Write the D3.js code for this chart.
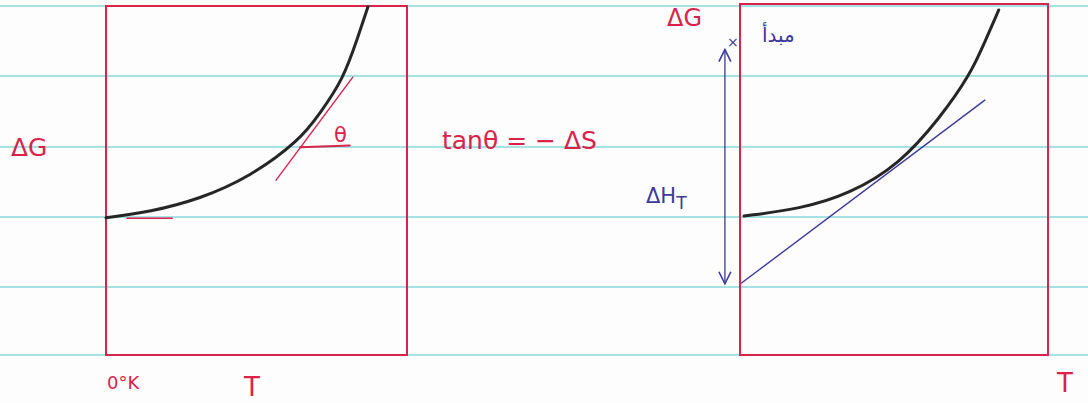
<!DOCTYPE html>
<html>
<head>
<meta charset="utf-8">
<script src="https://cdn.jsdelivr.net/npm/d3@7"></script>
<style>
  html, body { margin: 0; padding: 0; background: #fdfdfd; }
  svg { display: block; }
  text { font-family: "DejaVu Sans", sans-serif; }
</style>
</head>
<body>
<svg id="chart" width="1088" height="403"></svg>
<script>
// Free energy ΔG against temperature T (two sketches)
const ruleRows = [6, 76, 147, 217, 287, 355];

// Left sketch: ΔG(T) curve, flat at 0 K and rising steeply
const leftT = [0, 14.6, 31.2, 47.8, 64.5, 71.1, 78.7, 83.7, 87];
const leftG = [39.3, 41, 44.7, 51, 61.6, 69.3, 78.8, 91.1, 99.7];
// tangent at a point on the curve and its horizontal reference for θ
const leftTangentT = [56.5, 82];
const leftTangentG = [50.1, 79.6];
const leftThetaT = [64.5, 81];
const leftThetaG = [59.5, 60];
const leftZeroT = [7, 22];
const leftZeroG = [39.2, 39.2];

// Right sketch: same curve with tangent extrapolated back to T = 0
const rightT = [1.3, 19.5, 35.7, 51.9, 64.9, 74.7, 79.5, 84];
const rightG = [39.6, 41.6, 45.9, 54.4, 67.5, 79.8, 89.2, 98.3];
const rightTangentT = [0.5, 79.5];
const rightTangentG = [20.5, 72.6];
const arrowT = -4.9;
const arrowG = [87, 20.3];

const RED = "#d9234b", BLUE = "#3b3a9c", INK = "#262626", RULE = "#8ad9d9";

const svg = d3.select("#chart");

// ruled notebook lines
svg.selectAll("line.rule").data(ruleRows).join("line")
  .attr("class", "rule")
  .attr("x1", 0).attr("x2", 1088)
  .attr("y1", d => d).attr("y2", d => d)
  .attr("stroke", RULE).attr("stroke-width", 1.4);

function panel(x0, x1, y0, y1) {
  const x = d3.scaleLinear().domain([0, 100]).range([x0, x1]);
  const y = d3.scaleLinear().domain([0, 100]).range([y1, y0]);
  svg.append("rect")
    .attr("x", x0).attr("y", y0)
    .attr("width", x1 - x0).attr("height", y1 - y0)
    .attr("fill", "none").attr("stroke", RED).attr("stroke-width", 2);
  return { x, y };
}

function seg(s, ts, gs, color, width) {
  svg.append("path")
    .attr("d", d3.line().x(d => s.x(d[0])).y(d => s.y(d[1]))(d3.zip(ts, gs)))
    .attr("fill", "none").attr("stroke", color)
    .attr("stroke-width", width).attr("stroke-linecap", "round");
}

function curve(s, ts, gs) {
  svg.append("path")
    .attr("d", d3.line().curve(d3.curveBasis)
      .x(d => s.x(d[0])).y(d => s.y(d[1]))(d3.zip(ts, gs)))
    .attr("fill", "none").attr("stroke", INK)
    .attr("stroke-width", 3).attr("stroke-linecap", "round");
}

// ---- left panel
const L = panel(106, 407, 6, 355);
seg(L, leftZeroT, leftZeroG, RED, 1.6);
seg(L, leftTangentT, leftTangentG, RED, 1.4);
seg(L, leftThetaT, leftThetaG, RED, 2);
curve(L, leftT, leftG);

svg.append("text").attr("x", 11).attr("y", 156)
  .attr("font-size", 25).attr("fill", RED).text("ΔG");
svg.append("text").attr("x", 334).attr("y", 142)
  .attr("font-size", 21).attr("fill", RED).text("θ");
svg.append("text").attr("x", 107).attr("y", 389)
  .attr("font-size", 18).attr("fill", RED).text("0°K");
svg.append("text").attr("x", 244).attr("y", 396)
  .attr("font-size", 26).attr("fill", RED).text("T");

svg.append("text").attr("x", 442).attr("y", 149)
  .attr("font-size", 25).attr("fill", RED).text("tanθ = − ΔS");

// ---- right panel
const R = panel(740, 1048, 4, 355);
seg(R, rightTangentT, rightTangentG, BLUE, 1.4);
curve(R, rightT, rightG);

// ΔH_T double arrow
const ax = R.x(arrowT);
svg.append("line")
  .attr("x1", ax).attr("x2", ax)
  .attr("y1", R.y(arrowG[0])).attr("y2", R.y(arrowG[1]))
  .attr("stroke", BLUE).attr("stroke-width", 1.3);
const ay0 = R.y(arrowG[0]), ay1 = R.y(arrowG[1]);
svg.append("path")
  .attr("d", `M${ax - 6},${ay0 + 12} L${ax},${ay0} L${ax + 6},${ay0 + 12}
              M${ax - 6},${ay1 - 12} L${ax},${ay1} L${ax + 6},${ay1 - 12}`)
  .attr("fill", "none").attr("stroke", BLUE).attr("stroke-width", 1.6);

svg.append("text").attr("x", 727).attr("y", 47)
  .attr("font-size", 14).attr("fill", BLUE).text("×");
svg.append("text").attr("x", 667).attr("y", 26)
  .attr("font-size", 24).attr("fill", RED).text("ΔG");
svg.append("text").attr("x", 762).attr("y", 42)
  .attr("font-size", 20).attr("fill", BLUE).text("مبدأ");
svg.append("text").attr("x", 646).attr("y", 203)
  .attr("font-size", 21).attr("fill", BLUE)
  .text("ΔH")
  .append("tspan").attr("dy", 6).attr("font-size", 17).text("T");
svg.append("text").attr("x", 1057).attr("y", 392)
  .attr("font-size", 26).attr("fill", RED).text("T");
</script>
</body>
</html>
